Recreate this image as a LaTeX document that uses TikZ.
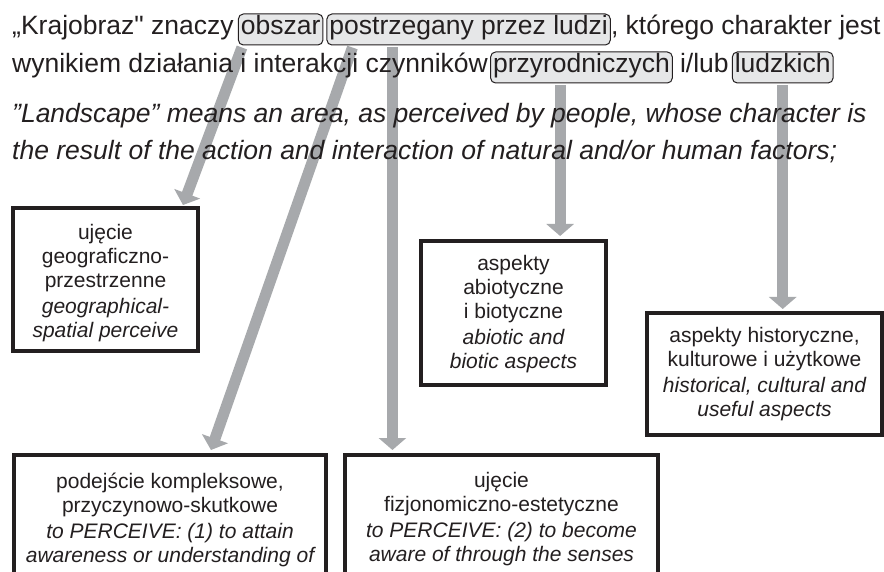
\documentclass[tikz,border=0pt]{standalone}
\usepackage{fontspec}
\setmainfont{Liberation Sans}
\usetikzlibrary{arrows.meta,calc}
\pgfdeclarelayer{bg}
\pgfsetlayers{bg,main}
\definecolor{ink}{HTML}{231F20}
\definecolor{arrowgray}{HTML}{A7A9AC}
\definecolor{chipfill}{HTML}{E6E7E8}
\newcommand{\straightquote}{\XeTeXglyph\XeTeXcharglyph"22\relax}
\tikzset{
 maintext/.style={font=\fontsize{26.5}{30}\selectfont, text=ink, inner sep=0pt, anchor=base west},
 italictext/.style={maintext, font=\fontsize{26.5}{30}\selectfont\itshape},
 chip/.style={font=\fontsize{26.5}{30}\selectfont, text=ink, draw=ink, line width=1pt, fill=chipfill, rounded corners=5pt, inner xsep=2.5pt, inner ysep=2pt, text height=19pt, text depth=8pt, anchor=base west},
 bigbox/.style={draw=ink, line width=4pt, fill=white, align=center, font=\fontsize{21}{24}\selectfont, text=ink, inner sep=0pt, anchor=north west},
 bigarrow/.style={draw=arrowgray, line width=11pt, -{Triangle[width=27pt,length=12pt]}}
}
\begin{document}
\begin{tikzpicture}[x=1pt,y=-1pt]
\clip (0,0) rectangle (884,572);
% line 1
\node[maintext] (l1a) at (12,35) {„Krajobraz\straightquote{} znaczy};
\node[chip] (obszar) at ($(l1a.base east)+(4,0)$) {obszar};
\node[chip] (postrz) at ($(obszar.base east)+(3,0)$) {postrzegany przez ludzi};
\node[maintext] (l1b) at ($(postrz.base east)+(0,0)$) {, którego charakter jest};
% line 2
\node[maintext] (l2a) at (12,73) {wynikiem działania i interakcji czynników};
\node[chip] (przyr) at ($(l2a.base east)+(2,0)$) {przyrodniczych};
\node[maintext] (l2b) at ($(przyr.base east)+(7,0)$) {i/lub};
\node[chip] (ludz) at ($(l2b.base east)+(3,0)$) {ludzkich};
% english
\node[italictext] (l3) at (12,123) {”Landscape” means an area, as perceived by people, whose character is};
\node[italictext] (l4) at (12,160) {the result of the action and interaction of natural and/or human factors;};
% boxes
\node[bigbox, minimum width=185pt, minimum height=143pt] (geo) at (11,206)
 {\rule{0pt}{23pt}ujęcie\\geograficzno-\\przestrzenne\\[2pt]\itshape geographical-\\\itshape spatial perceive};
\node[bigbox, minimum width=185pt, minimum height=144pt] (abio) at (419,239)
 {\rule{0pt}{18pt}aspekty\\abiotyczne\\i biotyczne\\[2pt]\itshape abiotic and\\\itshape biotic aspects};
\node[bigbox, minimum width=235pt, minimum height=122pt] (hist) at (645,311)
 {aspekty historyczne,\\kulturowe i użytkowe\\[2pt]\itshape historical, cultural and\\\itshape useful aspects};
\node[bigbox, minimum width=312pt, minimum height=129pt] (kompl) at (12,453)
 {podejście kompleksowe,\\przyczynowo-skutkowe\\[2pt]\itshape to PERCEIVE: (1) to attain\\\itshape awareness or understanding of};
\node[bigbox, minimum width=313pt, minimum height=129pt] (fiz) at (343,453)
 {ujęcie\\fizjonomiczno-estetyczne\\[2pt]\itshape to PERCEIVE: (2) to become\\\itshape aware of through the senses};
% arrows
\coordinate (s1) at ($(obszar.south west)+(4,2)$);
\coordinate (s2) at ($(postrz.south west)+(26,2)$);
\coordinate (s3) at ($(postrz.south west)+(66,2)$);
\coordinate (s4) at ($(przyr.south west)+(70,2)$);
\coordinate (s5) at ($(ludz.south)+(0,2)$);
\begin{pgfonlayer}{bg}
\fill[white] (0,0) rectangle (884,572);
\draw[bigarrow] (s1) -- ($(geo.north east)+(-17,-1)$);
\draw[bigarrow] (s2) -- ($(kompl.north west)+(199,-3)$);
\draw[bigarrow] (s3) -- ($(s3 |- fiz.north)+(0,-3)$);
\draw[bigarrow] (s4) -- ($(s4 |- abio.north)+(0,-3)$);
\draw[bigarrow] (s5) -- ($(s5 |- hist.north)+(0,-2)$);
\end{pgfonlayer}
\end{tikzpicture}
\end{document}
